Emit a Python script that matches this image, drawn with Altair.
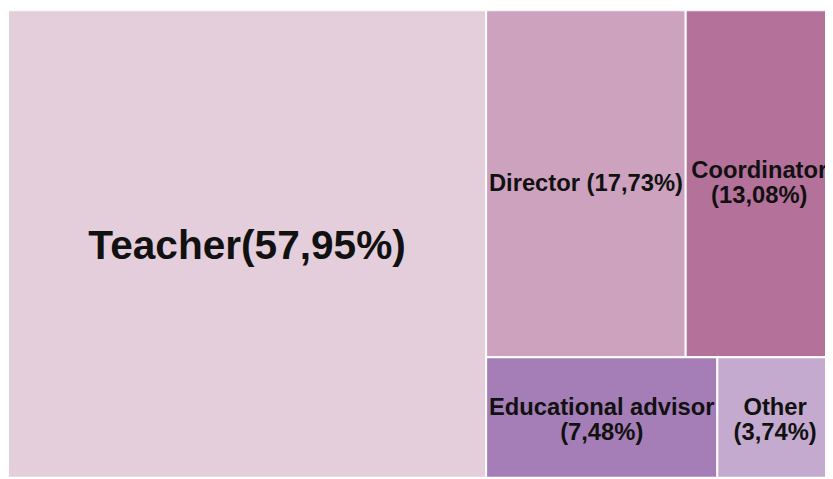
import altair as alt
import pandas as pd

# ---- data ----
categories = ["Teacher", "Director", "Coordinator", "Educational advisor", "Other"]
shares = [57.95, 17.73, 13.08, 7.48, 3.74]
labels = [
    "Teacher(57,95%)",
    "Director (17,73%)",
    "Coordinator\n(13,08%)",
    "Educational advisor\n(7,48%)",
    "Other\n(3,74%)",
]
groups = ["left", "top", "top", "bottom", "bottom"]
palette = ["#E5CEDC", "#CDA2BE", "#B4729B", "#A57EB7", "#C4AACE"]

# ---- layout constants (treemap extent vs visible view; the treemap is cropped) ----
TREE_W, TREE_H = 833.0, 478.0
VIEW_W, VIEW_H = 825, 471
LINE_H = 25


def slice_layout(W, H):
    total = sum(shares)
    left = [i for i, g in enumerate(groups) if g == "left"]
    left_share = sum(shares[i] for i in left)
    xl = W * left_share / total
    rects = {}
    y = 0.0
    for i in left:
        h = H * shares[i] / left_share
        rects[i] = (0.0, xl, y, y + h)
        y += h
    rest = total - left_share
    y0 = 0.0
    for g in ["top", "bottom"]:
        idx = [i for i, gg in enumerate(groups) if gg == g]
        row_share = sum(shares[i] for i in idx)
        y1 = y0 + H * row_share / rest
        x = xl
        for i in idx:
            w = (W - xl) * shares[i] / row_share
            rects[i] = (x, x + w, y0, y1)
            x += w
        y0 = y1
    return rects


rects = slice_layout(TREE_W, TREE_H)
rows = []
for i, c in enumerate(categories):
    x0, x1, y0, y1 = rects[i]
    rows.append(
        dict(category=c, label=labels[i], share=shares[i],
             lines=labels[i].count("\n") + 1,
             x0=x0, x1=x1, y0=y0, y1=y1,
             cx=(x0 + x1) / 2, cy=(y0 + y1) / 2)
    )
df = pd.DataFrame(rows)

xs = alt.Scale(domain=[0, VIEW_W], nice=False, zero=False)
ys = alt.Scale(domain=[0, VIEW_H], nice=False, zero=False, reverse=True)
color = alt.Color("category:N", scale=alt.Scale(domain=categories, range=palette), legend=None)

base = alt.Chart(df)

boxes = base.mark_rect(clip=True, stroke="white", strokeWidth=2).encode(
    x=alt.X("x0:Q", scale=xs, axis=None),
    x2="x1:Q",
    y=alt.Y("y0:Q", scale=ys, axis=None),
    y2="y1:Q",
    color=color,
)

text_style = dict(
    clip=True,
    font="Liberation Sans",
    fontWeight="bold",
    color="#111111",
    align="center",
    baseline="middle",
    lineBreak="\n",
    lineHeight=LINE_H,
)
text_enc = dict(
    x=alt.X("cx:Q", scale=xs, axis=None),
    y=alt.Y("cy:Q", scale=ys, axis=None),
    text="label:N",
    size=alt.condition(alt.datum.category == "Teacher", alt.value(41), alt.value(24)),
)

text_single = base.transform_filter(alt.datum.lines == 1).mark_text(**text_style).encode(**text_enc)
text_double = (
    base.transform_filter(alt.datum.lines == 2)
    .mark_text(dy=-LINE_H / 2, **text_style)
    .encode(**text_enc)
)

chart = (
    alt.layer(boxes, text_single, text_double)
    .properties(width=VIEW_W, height=VIEW_H, padding=0)
    .configure_view(stroke=None)
)

chart.save("out.html", embed_options={"renderer": "svg", "actions": False})
